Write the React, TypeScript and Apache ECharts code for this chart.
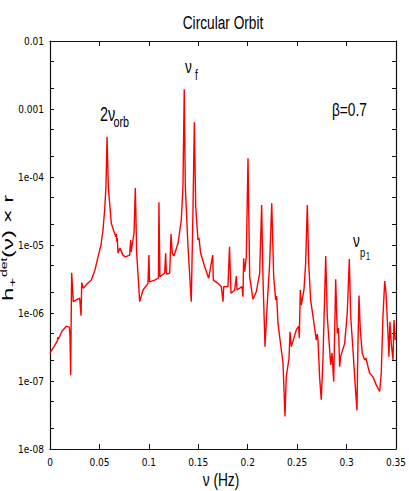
import React, { useEffect, useRef } from "react";
import * as echarts from "echarts";

// Frequency (Hz) and amplitude h_+^det(ν) × r
const FREQ = [
  0, 0.004, 0.0075, 0.0079, 0.0084, 0.0121, 0.0165, 0.0195, 0.0202, 0.0209,
  0.0219, 0.0236, 0.0263, 0.03, 0.0314, 0.0321, 0.0337, 0.0374, 0.0418, 0.0455,
  0.0486, 0.0516, 0.0536, 0.0553, 0.0566, 0.0577, 0.059, 0.062, 0.0665, 0.0671,
  0.0675, 0.068, 0.0688, 0.0708, 0.0738, 0.0762, 0.0806, 0.0816, 0.0821, 0.085,
  0.0863, 0.0877, 0.0907, 0.0941, 0.0991, 0.1001, 0.1007, 0.1059, 0.1097, 0.1102,
  0.1112, 0.116, 0.117, 0.1178, 0.1211, 0.1224, 0.1237, 0.1254, 0.1295, 0.1328,
  0.1345, 0.1358, 0.1369, 0.1396, 0.1429, 0.1446, 0.146, 0.1474, 0.1497, 0.1507,
  0.1524, 0.1565, 0.1605, 0.1646, 0.1652, 0.1699, 0.1733, 0.175, 0.1757, 0.18,
  0.1816, 0.1831, 0.1868, 0.1885, 0.1892, 0.1942, 0.1952, 0.1959, 0.1969, 0.1986,
  0.2003, 0.202, 0.2053, 0.2087, 0.2121, 0.2141, 0.2155, 0.2175, 0.2198, 0.2222,
  0.2243, 0.2263, 0.2283, 0.2293, 0.2306, 0.234, 0.2357, 0.2377, 0.239, 0.2418,
  0.2428, 0.2441, 0.2491, 0.2516, 0.2522, 0.2532, 0.2542, 0.2569, 0.2586, 0.2603,
  0.2617, 0.2637, 0.267, 0.2694, 0.2704, 0.2711, 0.2728, 0.2744, 0.2761, 0.2789,
  0.2805, 0.2829, 0.2839, 0.2853, 0.287, 0.289, 0.2906, 0.2918, 0.293, 0.294,
  0.2981, 0.3007, 0.3028, 0.3042, 0.3065, 0.3082, 0.3105, 0.3116, 0.3126, 0.3139,
  0.3159, 0.3183, 0.3196, 0.3217, 0.3234, 0.3267, 0.3301, 0.3335, 0.3351, 0.3368,
  0.3386, 0.3399, 0.3419, 0.3429, 0.3439, 0.3452, 0.347, 0.348, 0.3493,
];
const AMP = [
  2.6e-7, 3.2e-7, 3.9e-7, 4.4e-7, 4.1e-7, 5.4e-7, 6.4e-7, 6.2e-7, 4.7e-7, 1.22e-7,
  3.9e-6, 1.47e-6, 1.55e-6, 1.66e-6, 9.1e-7, 2.8e-6, 2.3e-6, 2.67e-6, 3.05e-6, 4.3e-6,
  6.7e-6, 1.0e-5, 1.66e-5, 3.3e-5, 7.2e-5, 3.9e-4, 7.2e-5, 2.08e-5, 1.32e-5, 1.45e-5,
  1.12e-5, 1.27e-5, 7.6e-6, 9.0e-6, 7.1e-6, 6.7e-6, 7.1e-6, 1.19e-5, 7.9e-6, 1.5e-5,
  6.9e-5, 7.6e-6, 1.47e-6, 2.18e-6, 2.73e-6, 7.1e-6, 2.86e-6, 3.05e-6, 3.27e-6, 4.25e-5,
  3.42e-6, 3.84e-6, 7.55e-6, 3.75e-6, 3.84e-6, 1.45e-5, 7.55e-6, 6.9e-6, 1.06e-5, 2.33e-5,
  7.2e-5, 1.95e-3, 7.2e-5, 9.4e-6, 1.47e-6, 2.92e-5, 6.4e-4, 3.66e-5, 1.19e-5, 1.27e-5,
  7.55e-6, 4.8e-6, 3.24e-6, 7.1e-6, 3.05e-6, 2.73e-6, 2.44e-6, 1.47e-6, 2.43e-6, 2.44e-6,
  9.4e-6, 1.95e-6, 2.18e-6, 3.5e-6, 2.18e-6, 2.44e-6, 1.74e-6, 6.4e-6, 4.05e-6, 6.7e-6,
  1.88e-4, 3.42e-6, 1.59e-6, 2.06e-6, 3.84e-6, 3.88e-5, 3.05e-6, 3.2e-7, 1.39e-6, 5.4e-6,
  4.1e-5, 3.42e-6, 1.55e-6, 1.78e-6, 7.1e-7, 2.86e-7, 1.84e-7, 3.0e-8, 1.16e-7, 2.16e-7,
  5.3e-7, 3.2e-7, 5.6e-7, 6.4e-7, 4.25e-7, 2.18e-6, 1.31e-6, 2.18e-6, 5.4e-6, 3.88e-5,
  5.4e-6, 1.55e-6, 7.1e-7, 4.0e-7, 4.9e-7, 4.0e-7, 1.1e-7, 5.3e-8, 2.04e-7, 6.9e-6,
  8.8e-7, 2.86e-7, 1.72e-7, 2.58e-7, 9.8e-8, 3.13e-6, 5.0e-7, 6.0e-7, 1.62e-7, 2.28e-7,
  3.58e-7, 9.9e-7, 6.2e-6, 8.8e-7, 2.86e-7, 1.16e-7, 3.7e-8, 4.0e-7, 1.8e-6, 5.6e-7,
  2.55e-7, 2.04e-7, 2.16e-7, 1.62e-7, 1.3e-7, 1.15e-7, 8.7e-8, 7.0e-8, 1.3e-7, 8.8e-7,
  2.96e-6, 1.97e-6, 5.0e-7, 2.28e-7, 7.45e-7, 3.58e-7, 2.04e-7, 7.9e-7, 4.0e-7,
];

const X_TICK_LABELS = ["0", "0.05", "0.1", "0.15", "0.2", "0.25", "0.3", "0.35"];
const Y_TICK_LABELS = ["1e-08", "1e-07", "1e-06", "1e-05", "1e-04", "0.001", "0.01"];
const Y_DECADES = [-8, -7, -6, -5, -4, -3, -2];
const Y_MINOR_MULT = [2, 5];

const TITLE = "Circular Orbit";
const X_NAME = "ν (Hz)";

const NARROW = "'Liberation Sans Narrow', 'DejaVu Sans Condensed', 'Roboto Condensed', 'Liberation Sans', sans-serif";
const SANS = "'Liberation Sans', Arial, sans-serif";
const SX = 0.72;

function txt(text: string, x: number, yBase: number, size: number, align: string = "left", extra: any = {}) {
  return {
    type: "text",
    x,
    y: yBase - 0.35 * size,
    scaleX: extra.scaleX ?? SX,
    scaleY: extra.scaleY ?? 1,
    silent: true,
    style: {
      text,
      fontSize: size,
      fontFamily: SANS,
      fill: "#000",
      textAlign: align,
      align,
      textVerticalAlign: "middle",
      verticalAlign: "middle",
    },
  };
}

export default function App() {
  const ref = useRef<HTMLDivElement>(null);
  useEffect(() => {
    if (!ref.current) return;
    const chart = echarts.init(ref.current, null, { renderer: "svg" });
    const data = FREQ.map((f, i) => [f, AMP[i]]);
    const yTickVals: number[] = [];
    Y_DECADES.forEach((e, i) => {
      yTickVals.push(Math.pow(10, e));
      if (i < Y_DECADES.length - 1) Y_MINOR_MULT.forEach((m) => yTickVals.push(m * Math.pow(10, e)));
    });
    const yLabelVals = Y_DECADES.map((e) => Math.pow(10, e));
    const axisLineStyle = { color: "#111", width: 1.2 };
    const xBase: any = {
      type: "value",
      min: 0,
      max: 0.35,
      interval: 0.05,
      splitLine: { show: false },
      axisLine: { show: true, onZero: false, lineStyle: axisLineStyle },
      axisTick: { show: true, inside: true, length: 5, lineStyle: { color: "#111", width: 1 } },
    };
    const yBase: any = {
      type: "log",
      logBase: 10,
      min: 1e-8,
      max: 0.01,
      splitLine: { show: false },
      axisLine: { show: true, onZero: false, lineStyle: axisLineStyle },
      axisTick: { show: true, inside: true, length: 4, customValues: yTickVals, lineStyle: { color: "#111", width: 1 } },
    };
    chart.setOption({
      animation: false,
      backgroundColor: "#fff",
      grid: { left: 50, top: 41, right: 13, bottom: 42, containLabel: false },
      xAxis: [
        {
          ...xBase,
          position: "bottom",
          axisLabel: {
            show: true,
            color: "#000",
            fontSize: 10,
            fontFamily: NARROW,
            margin: 8,
            showMinLabel: true,
            showMaxLabel: true,
            formatter: (v: number) => X_TICK_LABELS[Math.round(v / 0.05)] ?? "",
          },
        },
        { ...xBase, position: "top", axisLabel: { show: false } },
      ],
      yAxis: [
        {
          ...yBase,
          position: "left",
          axisLabel: {
            show: true,
            color: "#000",
            fontSize: 10,
            fontFamily: NARROW,
            margin: 6,
            customValues: yLabelVals,
            showMinLabel: true,
            showMaxLabel: true,
            formatter: (v: number) => Y_TICK_LABELS[Math.round(Math.log10(v)) + 8] ?? "",
          },
        },
        { ...yBase, position: "right", axisLabel: { show: false } },
      ],
      series: [
        {
          type: "line",
          xAxisIndex: 0,
          yAxisIndex: 0,
          data,
          showSymbol: false,
          symbol: "none",
          lineStyle: { color: "#ff0000", width: 1.4 },
          itemStyle: { color: "#ff0000" },
          clip: true,
        },
      ],
      graphic: [
        txt(TITLE, 223, 29, 19, "center"),
        txt(X_NAME, 221, 486.5, 19, "center"),
        txt("2ν", 100, 121, 20),
        txt("orb", 113.5, 127.5, 15),
        txt("ν", 185, 73.5, 19),
        txt("f", 195, 80, 14),
        txt("β=0.7", 332, 116, 19),
        txt("ν", 353, 247, 19),
        txt("p", 360, 256.5, 13),
        txt("1", 366, 260, 10),
        {
          type: "group",
          x: 13,
          y: 302,
          rotation: Math.PI / 2,
          scaleY: 0.6,
          children: [
            txt("h", 1, 0, 24, "left", { scaleX: 1 }),
            txt("+", 15, 5, 16, "left", { scaleX: 1 }),
            txt("det", 25, -9.5, 14, "left", { scaleX: 1 }),
            txt("(ν) × r", 44, 0, 24, "left", { scaleX: 1 }),
          ],
        },
      ],
    });
    return () => chart.dispose();
  }, []);
  return <div ref={ref} style={{ position: "absolute", left: 0, top: 0, width: 409, height: 491 }} />;
}
